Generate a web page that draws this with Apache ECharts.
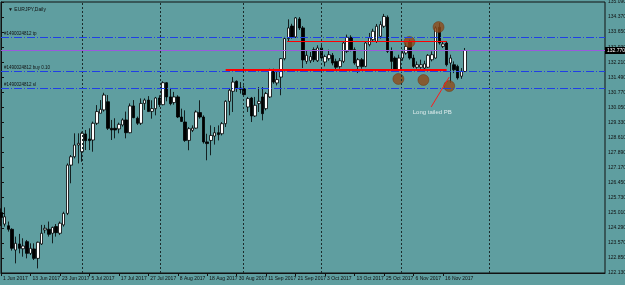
<!DOCTYPE html>
<html>
<head>
<meta charset="utf-8">
<script src="https://cdn.jsdelivr.net/npm/echarts@6/dist/echarts.min.js"></script>
<style>
  html, body { margin: 0; padding: 0; background: #5f9ea0; }
  #chart { width: 625px; height: 285px; }
</style>
</head>
<body>
<div id="chart"></div>
<script>
// EURJPY daily, 1 Jun 2017 .. late Nov 2017 (one entry per trading day)
const dateLabels = ['1 Jun 2017', '13 Jun 2017', '23 Jun 2017', '5 Jul 2017', '17 Jul 2017',
  '27 Jul 2017', '8 Aug 2017', '18 Aug 2017', '30 Aug 2017', '11 Sep 2017', '21 Sep 2017',
  '3 Oct 2017', '13 Oct 2017', '25 Oct 2017', '6 Nov 2017', '16 Nov 2017'];
const dateTicks = [0, 8, 16, 24, 32, 40, 48, 56, 64, 72, 80, 88, 96, 104, 112, 120];
// month separators, in bar units as they sit on the picture
const monthStarts = [22.13, 43.31, 65.85, 87.02, 108.75, 132.64];

const opens = [125.02, 124.47, 124.39, 124.22, 123.23, 123.52, 123.29, 123.63, 123.07, 123.28,
  122.83, 123.52, 124.19, 124.22, 124.03, 124.35, 124.03, 124.43, 124.98, 127.29,
  127.69, 128.25, 127.93, 128.78, 128.54, 128.49, 129.29, 129.77, 129.93, 130.32,
  129.05, 129.05, 129.02, 129.21, 129.45, 128.84, 130.12, 129.53, 129.29, 130.24,
  130.40, 129.86, 129.99, 130.50, 130.18, 131.23, 130.55, 130.28, 130.55, 129.59,
  129.35, 128.47, 128.95, 129.06, 129.80, 129.59, 128.40, 128.47, 128.68, 128.84,
  128.79, 129.27, 130.34, 130.82, 131.30, 130.98, 130.95, 130.07, 130.50, 129.64,
  130.23, 130.55, 129.99, 130.55, 131.82, 131.22, 131.50, 132.38, 133.34, 133.94,
  133.42, 134.28, 133.85, 132.25, 132.28, 132.81, 132.28, 132.89, 132.22, 132.38,
  132.54, 132.25, 132.00, 132.25, 132.73, 133.40, 132.81, 132.01, 132.33, 132.01,
  133.05, 133.29, 133.21, 133.45, 133.93, 134.36, 132.73, 132.41, 131.85, 132.41,
  132.65, 133.21, 132.41, 131.97, 131.97, 131.93, 131.97, 132.33, 132.41, 133.88,
  132.97, 133.13, 132.17, 132.09, 132.01, 131.54, 131.77];
const closes = [124.79, 124.82, 124.22, 123.31, 123.55, 123.31, 123.42, 123.07, 123.31, 122.83,
  123.60, 124.03, 124.27, 123.98, 124.31, 124.06, 124.51, 124.98, 127.29, 127.69,
  128.25, 128.33, 128.81, 128.46, 128.46, 129.29, 129.85, 129.96, 130.64, 129.05,
  128.97, 128.97, 129.24, 129.45, 128.84, 130.12, 129.56, 129.29, 130.24, 130.40,
  129.85, 129.99, 130.50, 130.18, 131.23, 130.55, 130.23, 130.55, 129.59, 129.38,
  128.47, 129.03, 129.06, 129.83, 129.59, 128.40, 128.32, 128.71, 128.84, 128.75,
  129.27, 130.34, 130.87, 131.26, 130.95, 130.91, 130.66, 130.47, 129.64, 130.15,
  130.34, 129.75, 130.71, 131.82, 131.26, 131.38, 132.38, 133.34, 133.85, 133.42,
  134.33, 133.85, 132.32, 132.54, 132.48, 132.33, 132.89, 132.41, 132.48, 132.57,
  132.17, 131.97, 132.28, 133.13, 133.40, 132.81, 132.17, 132.33, 132.00, 133.13,
  133.37, 133.69, 133.93, 134.01, 134.40, 132.73, 132.25, 131.85, 132.41, 132.65,
  132.97, 132.41, 132.01, 132.09, 132.09, 132.13, 132.54, 132.57, 133.85, 133.13,
  133.08, 132.09, 132.41, 131.85, 131.46, 131.77, 132.77];
const lows = [124.38, 124.35, 124.11, 123.20, 122.59, 123.07, 122.91, 122.83, 122.99, 122.75,
  122.35, 123.47, 124.03, 123.87, 123.55, 123.87, 123.95, 124.35, 124.90, 126.42,
  127.61, 127.37, 127.45, 128.01, 128.01, 127.93, 129.21, 129.77, 129.85, 128.97,
  128.49, 128.57, 128.81, 129.13, 128.57, 128.81, 129.53, 129.21, 129.21, 129.93,
  129.85, 129.51, 129.67, 130.07, 130.15, 130.34, 130.15, 130.18, 129.54, 129.35,
  128.40, 128.00, 128.87, 129.03, 129.51, 128.32, 127.52, 127.76, 128.27, 128.47,
  128.71, 129.11, 129.67, 129.83, 130.79, 130.71, 130.55, 129.83, 129.35, 129.59,
  129.83, 129.43, 129.91, 130.50, 131.18, 131.10, 130.63, 132.30, 133.18, 133.34,
  133.37, 133.75, 131.93, 132.13, 132.17, 132.22, 132.22, 132.28, 132.01, 132.28,
  132.06, 131.85, 131.90, 132.17, 132.65, 132.73, 132.09, 131.69, 131.90, 131.97,
  132.97, 133.21, 133.13, 133.34, 133.85, 132.65, 131.85, 131.81, 131.74, 132.28,
  132.57, 132.33, 131.93, 131.90, 131.90, 131.74, 131.93, 132.25, 132.38, 133.05,
  132.89, 132.01, 131.22, 131.69, 131.38, 131.42, 131.74];
const highs = [125.22, 125.27, 124.59, 124.27, 123.87, 124.00, 123.79, 123.71, 123.55, 123.55,
  123.63, 124.43, 124.43, 124.59, 124.35, 124.47, 124.59, 125.06, 127.37, 127.77,
  128.81, 128.81, 128.89, 128.97, 129.05, 129.37, 130.16, 130.40, 130.75, 130.64,
  129.45, 129.53, 129.32, 129.53, 129.85, 130.24, 130.40, 129.61, 130.48, 130.48,
  130.59, 130.39, 130.55, 130.63, 131.30, 131.26, 130.98, 130.79, 130.63, 129.99,
  129.91, 129.11, 129.19, 129.91, 130.39, 129.67, 128.79, 129.19, 129.11, 129.19,
  129.35, 130.39, 130.98, 131.50, 131.34, 131.26, 131.10, 130.55, 130.55, 130.55,
  131.02, 131.02, 130.79, 131.90, 131.90, 131.74, 132.41, 133.42, 134.26, 134.05,
  134.37, 134.37, 133.94, 132.76, 132.70, 132.92, 133.02, 133.08, 132.57, 132.81,
  132.65, 132.38, 132.41, 133.21, 133.53, 133.50, 132.92, 132.41, 132.41, 133.21,
  133.61, 133.81, 134.04, 134.17, 134.52, 134.45, 132.92, 132.49, 132.57, 132.81,
  133.13, 133.29, 132.57, 132.25, 132.33, 132.28, 132.60, 132.73, 133.93, 134.09,
  133.21, 133.21, 132.57, 132.25, 132.09, 131.93, 132.89];

// order levels from the terminal
const orderNames = ['#1490024812 tp', '#1490024812 buy 0.10', '#1490024812 sl'];
const orderPrices = [133.39, 131.77, 130.95];
const bidPrice = 132.77;

// hand-drawn objects on the chart (bar index, price)
const supportLine = [[61, 131.84], [121, 131.84]];
const resistLine = [[77.7, 133.20], [121, 133.20]];
const circleBars = [107.9, 110.9, 114.7, 118.8, 121.7];
const circlePrices = [131.41, 133.18, 131.36, 133.89, 131.07];
const noteLine = [[121.7, 131.50], [116.8, 130.07]];
const noteText = 'Long tailed PB';
const notePos = [117.1, 129.80];

const font = 'Liberation Sans';
const ink = '#111';

let candles = opens.map((o, i) => [i, o, closes[i], lows[i], highs[i]]);

let myChart = echarts.init(document.getElementById('chart'));

myChart.setOption({
  animation: false,
  backgroundColor: '#5f9ea0',
  textStyle: { fontFamily: font },
  title: {
    text: '\u25BC EURJPY,Daily',
    left: 3, top: 2,
    textStyle: { fontSize: 5, color: ink, fontWeight: 'normal', fontFamily: font }
  },
  grid: {
    left: 1, right: 20, top: 2, bottom: 12,
    outerBoundsMode: 'none',
    show: true, borderColor: ink, borderWidth: 1, backgroundColor: 'transparent'
  },
  xAxis: {
    type: 'value',
    min: 0, max: 164,
    axisLine: { lineStyle: { color: ink } },
    splitLine: { show: false },
    axisTick: { customValues: dateTicks, length: 3, lineStyle: { color: ink } },
    axisLabel: {
      customValues: dateTicks,
      formatter: (v) => dateLabels[Math.round(v / 8)] || '',
      align: 'left', fontSize: 5, color: ink, margin: 3, padding: [0, 0, 0, 2]
    }
  },
  yAxis: {
    type: 'value',
    position: 'right',
    min: 122.13, max: 135.09, interval: 0.72,
    axisLine: { show: true, lineStyle: { color: ink } },
    axisTick: { show: true, length: 3, lineStyle: { color: ink } },
    splitLine: { show: false },
    axisLabel: {
      fontSize: 5, color: ink, margin: 3,
      formatter: (v) => v.toFixed(3),
      showMinLabel: true, showMaxLabel: true
    }
  },
  series: [
    {
      // month separators (chart grid)
      type: 'line',
      data: [],
      silent: true,
      z: 1,
      markLine: {
        symbol: 'none',
        silent: true,
        label: { show: false },
        lineStyle: { color: '#1b2b2b', type: [2, 2], width: 1 },
        data: monthStarts.map((m) => ({ xAxis: m }))
      }
    },
    {
      // order levels + bid line
      type: 'line',
      data: [],
      silent: true,
      z: 2,
      markLine: {
        symbol: 'none',
        silent: true,
        data: orderNames.map((n, i) => ({
          yAxis: orderPrices[i],
          lineStyle: { color: '#1f3fe6', type: [8, 2, 1, 2], width: 1 },
          label: {
            show: true, position: 'insideStartTop', formatter: n,
            fontSize: 4.5, color: ink, distance: [3, 1]
          }
        })).concat([{
          yAxis: bidPrice,
          lineStyle: { color: '#9b59de', type: 'solid', width: 1 },
          label: {
            show: true, position: 'end', formatter: bidPrice.toFixed(3),
            fontSize: 5, color: '#fff', backgroundColor: '#000',
            padding: [1, 2], distance: 0
          }
        }])
      }
    },
    {
      name: 'EURJPY',
      type: 'candlestick',
      data: candles,
      barWidth: 3,
      z: 3,
      itemStyle: {
        color: '#ffffff', color0: '#000000',
        borderColor: '#000000', borderColor0: '#000000', borderColorDoji: '#000000',
        borderWidth: 0.8
      },
      markLine: {
        symbol: 'none',
        silent: true,
        label: { show: false },
        data: [
          [{ coord: supportLine[0], lineStyle: { color: '#ff0000', width: 2, type: 'solid' } }, { coord: supportLine[1] }],
          [{ coord: resistLine[0], lineStyle: { color: '#ff0000', width: 1, type: 'solid' } }, { coord: resistLine[1] }],
          [{ coord: noteLine[0], lineStyle: { color: '#ff1a1a', width: 1, type: 'solid' } }, { coord: noteLine[1] }]
        ]
      }
    },
    {
      type: 'scatter',
      data: circleBars.map((b, i) => [b, circlePrices[i]]),
      symbolSize: 11,
      z: 4,
      itemStyle: { color: '#8e4a18', borderColor: '#6e3510', borderWidth: 0.6 }
    },
    {
      type: 'scatter',
      data: [notePos],
      symbolSize: 0,
      z: 5,
      label: {
        show: true, position: 'inside', formatter: noteText,
        fontSize: 6, color: '#ffffff', fontFamily: font
      }
    }
  ]
});
</script>
</body>
</html>
